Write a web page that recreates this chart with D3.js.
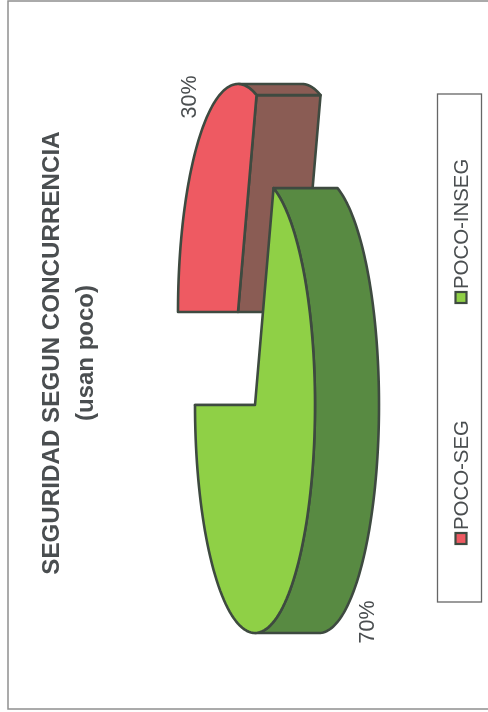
<!DOCTYPE html>
<html><head><meta charset="utf-8">
<script src="https://cdn.jsdelivr.net/npm/d3@7/dist/d3.min.js"></script>
<style>html,body{margin:0;padding:0;background:#fefefe}svg{display:block;filter:blur(0.45px)}text{font-family:"Liberation Sans",Arial,sans-serif;fill:#4a4e50}</style>
</head><body><svg id="c" width="488" height="712"></svg>
<script>
const categories = ["POCO-SEG", "POCO-INSEG"];
const values = [30, 70];
const valueLabels = ["30%", "70%"];
const titleLines = ["SEGURIDAD SEGUN CONCURRENCIA", "(usan poco)"];
const faceColors = ["#ee5a62", "#8fd046"];
const wallColors = ["#8a5c54", "#588a42"];

const svg = d3.select("#c");
const ink = "#3e4a40";
const rx = 60, ry = 228, depth = 64;
const centers = [[238, 312], [255, 405]];

svg.append("rect").attr("x",8).attr("y",1).attr("width",490).attr("height",708)
  .attr("fill","#ffffff").attr("stroke","#8f8f8f").attr("stroke-width",1.5);

const arcs = d3.pie().sort(null)(values);
const px = d3.scaleLinear().domain([-1,1]).range([-rx,rx]);
const py = d3.scaleLinear().domain([-1,1]).range([-ry,ry]);
// chart is rotated a quarter turn: pie angle 0 points left on the page, clockwise turns upward
const pt = (a,c,dx=0)=>[c[0]+dx+px(-Math.cos(a)), c[1]+py(-Math.sin(a))];
const line = d3.line();
const samples = (a0,a1)=>d3.range(0,121).map(i=>a0+(a1-a0)*i/120);

arcs.forEach((d,i)=>{
  const c = centers[i], g = svg.append("g");
  const style = (sel,fill)=>sel.attr("fill",fill).attr("stroke",ink).attr("stroke-width",2.6).attr("stroke-linejoin","round");
  // radial cut face (visible on the first slice, hidden under the wall on the second)
  const rad = [c,pt(d.endAngle,c),pt(d.endAngle,c,depth),[c[0]+depth,c[1]]];
  style(g.append("path").attr("d",line(rad)+"Z"),wallColors[i]);
  // side wall: only the part of the rim facing the depth direction is seen
  const s = samples(Math.max(d.startAngle,Math.PI/2),Math.min(d.endAngle,Math.PI*1.5));
  const rimW = s.map(a=>pt(a,c));
  const rimD = s.map(a=>pt(a,c,depth)).reverse();
  style(g.append("path").attr("d",line(rimW.concat(rimD))+"Z"),wallColors[i]);
  // top face
  const rim = samples(d.startAngle,d.endAngle).map(a=>pt(a,c));
  style(g.append("path").attr("d",line([c,...rim])+"Z"),faceColors[i]);
});

const rot = (x,y,t,size,anchor,bold)=>svg.append("text")
  .attr("transform",`translate(${x},${y}) rotate(-90)`)
  .attr("font-size",size).attr("text-anchor",anchor).attr("font-weight",bold?"bold":"normal").text(t);

rot(196,97,valueLabels[0],21.5,"middle");
rot(374,622,valueLabels[1],21.5,"middle");
rot(59,353,titleLines[0],24.2,"middle",true);
rot(93,353,titleLines[1],24,"middle",true);

svg.append("rect").attr("x",437.5).attr("y",94).attr("width",44).attr("height",508)
  .attr("fill","none").attr("stroke","#666").attr("stroke-width",1.3);
const legendY = [530, 289];
categories.forEach((n,i)=>{
  svg.append("rect").attr("x",455.5).attr("y",legendY[i]+3).attr("width",11).attr("height",11)
    .attr("fill",faceColors[i]).attr("stroke",ink).attr("stroke-width",2.2);
  rot(468,legendY[i],n,20.4,"start");
});
</script></body></html>
